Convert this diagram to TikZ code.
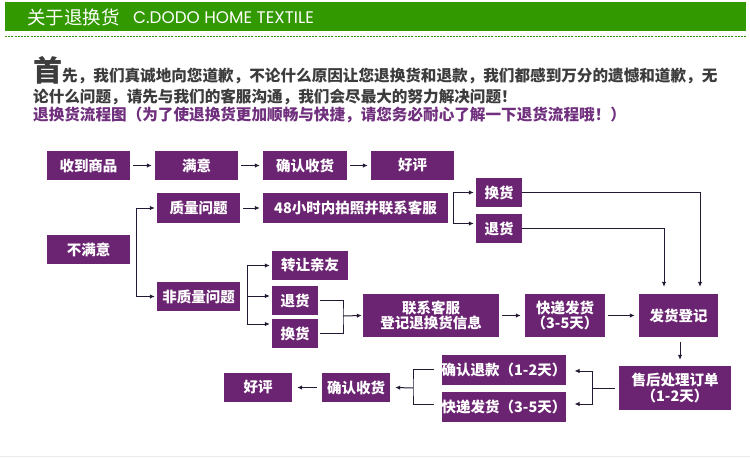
\documentclass[tikz,border=0pt]{standalone}
\usepackage{fontspec}
\usepackage{tikz}
\usetikzlibrary{arrows.meta}
\newfontfamily\cjk{Noto Sans CJK SC}
\newfontfamily\logofont{Poppins}
\definecolor{boxpurple}{RGB}{107,36,114}
\definecolor{barGreen}{RGB}{51,153,0}
\definecolor{introGray}{RGB}{60,60,60}
\definecolor{flowPurple}{RGB}{112,48,126}
\definecolor{lineDark}{RGB}{35,25,50}

\tikzset{
  box/.style={fill=boxpurple, text=white, inner sep=0pt, align=center,
    font=\cjk\bfseries\fontsize{14.5}{15.5}\selectfont, minimum height=29},
  arr/.style={draw=lineDark, line width=1pt, -{Latex[length=5pt,width=4.5pt]}},
  link/.style={draw=lineDark, line width=1pt},
  intro/.style={anchor=base west, inner sep=0pt, font=\cjk\bfseries\fontsize{15.6}{16}\selectfont},
}

\begin{document}
\begin{tikzpicture}[x=1pt,y=-1pt]
  \useasboundingbox[fill=white] (0,0) rectangle (750,458);
  % header
  \fill[barGreen] (5,2) rectangle (746,31);
  \draw[barGreen, line width=1pt, dash pattern=on 2pt off 1.2pt] (5,36) -- (746,36);
  \node[anchor=west, inner sep=0pt, text=white, font=\cjk\fontsize{18.5}{20}\selectfont] (title) at (27,17) {关于退换货};
  \node[anchor=west, inner sep=0pt, text=white, font=\logofont\fontsize{16.8}{18}\selectfont] (brand) at (133,17.5) {C.DODO HOME TEXTILE};

  % intro text
  \node[intro, text=introGray] (line1) at (33,81) {{\fontsize{29}{29}\selectfont 首}先，我们真诚地向您道歉，不论什么原因让您退换货和退款，我们都感到万分的遗憾和道歉，无};
  \node[intro, text=introGray] (line2) at (33,102) {论什么问题，请先与我们的客服沟通，我们会尽最大的努力解决问题！};
  \node[intro, text=flowPurple] (line3) at (33,120.5) {退换货流程图（为了使退换货更加顺畅与快捷，请您务必耐心了解一下退货流程哦！）};

  % row 1
  \node[box, minimum width=83] (rcv) at (88.5,165.5) {收到商品};
  \node[box, minimum width=83] (sat) at (196.5,165.5) {满意};
  \node[box, minimum width=84] (cfm) at (305,165.5) {确认收货};
  \node[box, minimum width=83] (good) at (412.5,165.5) {好评};
  \draw[arr] ([xshift=3]rcv.east) -- ([xshift=-3]sat.west);
  \draw[arr] ([xshift=3]sat.east) -- ([xshift=-3]cfm.west);
  \draw[arr] ([xshift=3]cfm.east) -- ([xshift=-3]good.west);

  % not satisfied
  \node[box, minimum width=83] (unsat) at (88.5,249.5) {不满意};
  \node[box, minimum width=83, minimum height=30] (qual) at (198.5,208) {质量问题};
  \node[box, minimum width=83] (nonq) at (198.5,296.5) {非质量问题};
  \draw[arr] ([xshift=6]unsat.east) |- ([xshift=-2]qual.west);
  \draw[arr] ([xshift=6]unsat.east) |- ([xshift=-2]nonq.west);

  % quality problem
  \node[box, minimum width=185, minimum height=30] (photo) at (355.5,208) {48小时内拍照并联系客服};
  \node[box, minimum width=46] (exA) at (499,192.5) {换货};
  \node[box, minimum width=46] (retA) at (499,228.5) {退货};
  \draw[arr] ([xshift=3]qual.east) -- ([xshift=-3]photo.west);
  \draw[arr] ([xshift=5]photo.east) |- ([xshift=-2]exA.west);
  \draw[arr] ([xshift=5]photo.east) |- ([xshift=-2,yshift=5]retA.west);

  % other problem
  \node[box, minimum width=76] (gift) at (310,265.5) {转让亲友};
  \node[box, minimum width=46] (retB) at (295,300.5) {退货};
  \node[box, minimum width=46] (exB) at (295,333.5) {换货};
  \draw[arr] ([xshift=7]nonq.east) |- ([xshift=-2]gift.west);
  \draw[arr] ([xshift=7]nonq.east) |- ([xshift=-2,yshift=4.5]retB.west);
  \draw[arr] ([xshift=7]nonq.east) |- ([xshift=-2,yshift=9.5]exB.west);

  \node[box, minimum width=136, minimum height=43] (contact) at (431,315.5) {联系客服\\登记退换货信息};
  \node[box, minimum width=80, minimum height=43] (ship) at (565,315.5) {快递发货\\（3-5天）};
  \node[box, minimum width=79, minimum height=43] (reg) at (678.5,315.5) {发货登记};
  \coordinate (mB) at (343,316);
  \draw[link] ([xshift=2]retB.east) -| (mB) |- ([xshift=2]exB.east);
  \draw[arr] (mB) -- ([xshift=-1]contact.west);
  \draw[arr] ([xshift=3]contact.east) -- ([xshift=-4]ship.west);
  \draw[arr] ([xshift=3]ship.east) -- ([xshift=-4]reg.west);
  \draw[arr] (exA.east) -| ([xshift=21.5,yshift=7]reg.north);
  \draw[arr] (retA.east) -| ([xshift=-14.5,yshift=7]reg.north);

  % after sale
  \node[box, minimum width=112, minimum height=44] (after) at (675,388) {售后处理订单\\（1-2天）};
  \node[box, minimum width=124, minimum height=30] (refund) at (504,370) {确认退款（1-2天）};
  \node[box, minimum width=124, minimum height=30] (ship2) at (504,407) {快递发货（3-5天）};
  \draw[arr] ([xshift=1.5,yshift=-5]reg.south) -- ([xshift=1.5,yshift=6]reg.south |- after.north);
  \coordinate (mA) at (592,388);
  \draw[link] ([xshift=-4]after.west) -- (mA);
  \draw[arr] (mA) |- ([xshift=8,yshift=-1]refund.east);
  \draw[arr] (mA) |- ([xshift=8,yshift=3]ship2.east);

  \node[box, minimum width=68] (cfm2) at (356,387.5) {确认收货};
  \node[box, minimum width=68] (good2) at (258,387.5) {好评};
  \coordinate (mC) at (413,388);
  \draw[link] ([xshift=-7,yshift=1]refund.west) -| (mC) |- ([xshift=-7,yshift=3]ship2.west);
  \draw[arr] (mC) -- ([xshift=5]cfm2.east);
  \draw[arr] ([xshift=-5]cfm2.west) -- ([xshift=5]good2.east);

  \draw[black!8] (0,456) -- (750,456);
\end{tikzpicture}
\end{document}
